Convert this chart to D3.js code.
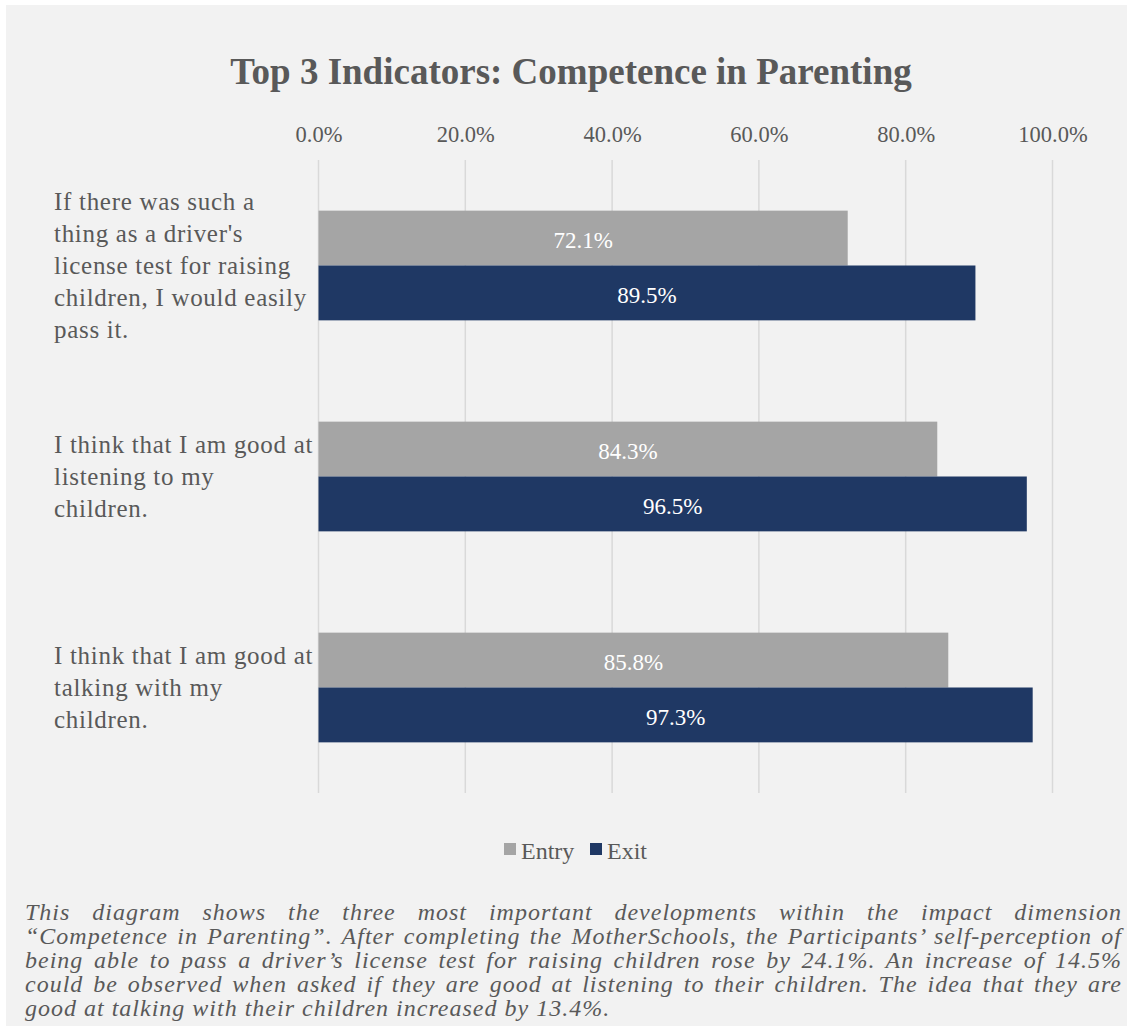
<!DOCTYPE html>
<html>
<head>
<meta charset="utf-8">
<script src="https://cdn.jsdelivr.net/npm/d3@7"></script>
<style>
  html, body { margin: 0; padding: 0; background: #ffffff; }
  svg { display: block; }
</style>
</head>
<body>
<svg id="chart" width="1127" height="1026"></svg>
<script>
// Indicator statements (explicit line breaks as laid out on the axis)
const categories = [
  "If there was such a\nthing as a driver's\nlicense test for raising\nchildren, I would easily\npass it.",
  "I think that I am good at\nlistening to my\nchildren.",
  "I think that I am good at\ntalking with my\nchildren."
];
const seriesNames = ["Entry", "Exit"];
const entryValues = [72.1, 84.3, 85.8];
const exitValues = [89.5, 96.5, 97.3];
const tickValues = [0, 20, 40, 60, 80, 100];

const titleText = "Top 3 Indicators: Competence in Parenting";
const captionLines = [
  "This diagram shows the three most important developments within the impact dimension",
  "\u201CCompetence in Parenting\u201D. After completing the MotherSchools, the Participants\u2019 self-perception of",
  "being able to pass a driver\u2019s license test for raising children rose by 24.1%. An increase of 14.5%",
  "could be observed when asked if they are good at listening to their children. The idea that they are",
  "good at talking with their children increased by 13.4%."
];

const colors = { Entry: "#a5a5a5", Exit: "#1f3864" };
const textColor = "#595959";
const font = "Liberation Serif, DejaVu Serif, serif";

const svg = d3.select("#chart");

// panel background
svg.append("rect")
  .attr("x", 6).attr("y", 5)
  .attr("width", 1127 - 6).attr("height", 1026 - 5)
  .attr("fill", "#f2f2f2");

const plot = { left: 318.5, right: 1052.5, top: 160, bottom: 793 };

const x = d3.scaleLinear().domain([0, 100]).range([plot.left, plot.right]);
const y = d3.scaleBand().domain(d3.range(categories.length))
  .range([plot.top, plot.bottom]).paddingInner(0.48).paddingOuter(0.24);
const ySub = d3.scaleBand().domain(seriesNames).range([0, y.bandwidth()]);

// title
svg.append("text")
  .attr("x", 571).attr("y", 83.5)
  .attr("text-anchor", "middle")
  .style("font-family", font).attr("font-weight", "bold")
  .attr("font-size", 37).attr("fill", textColor)
  .text(titleText);

// vertical gridlines
svg.append("g").selectAll("line").data(tickValues).join("line")
  .attr("x1", d => x(d)).attr("x2", d => x(d))
  .attr("y1", plot.top).attr("y2", plot.bottom)
  .attr("stroke", "#d9d9d9").attr("stroke-width", 1.5);

// top axis labels
const axis = d3.axisTop(x).tickValues(tickValues)
  .tickFormat(d => d3.format(".1f")(d) + "%").tickSize(0).tickPadding(0);
const axisG = svg.append("g").attr("transform", `translate(0,${142})`).call(axis);
axisG.select(".domain").remove();
axisG.attr("font-family", null).attr("font-size", null);
axisG.selectAll("text")
  .style("font-family", font).attr("font-size", 22.5).attr("fill", textColor)
  .attr("dy", 0);

// bars
const rows = categories.map((c, i) => ({ i, values: [
  { key: "Entry", value: entryValues[i] },
  { key: "Exit", value: exitValues[i] }
]}));

const groups = svg.append("g").selectAll("g").data(rows).join("g")
  .attr("transform", d => `translate(0,${y(d.i)})`);

groups.selectAll("rect").data(d => d.values).join("rect")
  .attr("x", x(0))
  .attr("y", d => ySub(d.key))
  .attr("width", d => x(d.value) - x(0))
  .attr("height", ySub.bandwidth())
  .attr("fill", d => colors[d.key]);

groups.selectAll("text").data(d => d.values).join("text")
  .attr("x", d => (x(0) + x(d.value)) / 2)
  .attr("y", d => ySub(d.key) + ySub.bandwidth() / 2 + 10)
  .attr("text-anchor", "middle")
  .style("font-family", font).attr("font-size", 23)
  .attr("fill", "#ffffff")
  .text(d => d3.format(".1f")(d.value) + "%");

// category labels
const lineH = 32;
svg.append("g").selectAll("text").data(categories).join("text")
  .style("font-family", font).attr("font-size", 25)
  .attr("letter-spacing", 0.7).attr("fill", textColor)
  .each(function(d, i) {
    const lines = d.split("\n");
    const cy = y(i) + y.bandwidth() / 2;
    const first = cy - (lines.length - 1) * lineH / 2 + 8.5;
    d3.select(this).selectAll("tspan").data(lines).join("tspan")
      .attr("x", 54)
      .attr("y", (l, k) => first + k * lineH)
      .text(l => l);
  });

// legend
const legend = svg.append("g").attr("transform", "translate(504,843)");
const legendX = [0, 86];
seriesNames.forEach((name, k) => {
  legend.append("rect")
    .attr("x", legendX[k]).attr("y", 0)
    .attr("width", 12).attr("height", 12)
    .attr("fill", colors[name]);
  legend.append("text")
    .attr("x", legendX[k] + 17).attr("y", 16)
    .style("font-family", font).attr("font-size", 24).attr("fill", textColor)
    .text(name);
});

// caption, justified line by line
const capLeft = 25, capRight = 1122, capTop = 920, capStep = 24;
const cap = svg.append("g");
captionLines.forEach((line, k) => {
  const t = cap.append("text")
    .attr("x", capLeft).attr("y", capTop + k * capStep)
    .style("font-family", font).attr("font-style", "italic")
    .attr("font-size", 24).attr("letter-spacing", 1)
    .attr("fill", textColor)
    .text(line);
  if (k < captionLines.length - 1) {
    const w = t.node().getComputedTextLength();
    const spaces = (line.match(/ /g) || []).length;
    if (spaces > 0) t.attr("word-spacing", (capRight - capLeft - w) / spaces);
  }
});
</script>
</body>
</html>
